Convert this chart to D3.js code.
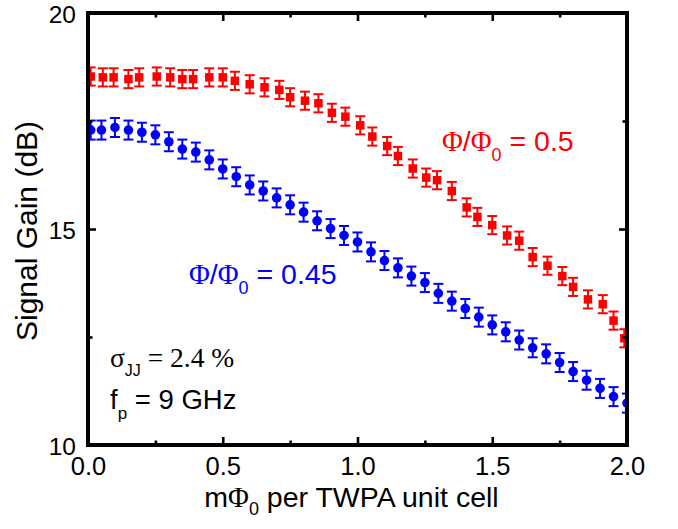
<!DOCTYPE html>
<html>
<head>
<meta charset="utf-8">
<script src="https://cdn.jsdelivr.net/npm/d3@7"></script>
<style>
  body { margin: 0; background: #fff; }
  svg { display: block; }
  text { font-family: "Liberation Sans", Arial, sans-serif; }
</style>
</head>
<body>
<svg id="chart" width="678" height="529"></svg>
<script>
// Phi/Phi0 = 0.5 (red squares)
const redX = [0.01, 0.055, 0.095, 0.15, 0.19, 0.255, 0.305, 0.35, 0.39, 0.45, 0.50, 0.545, 0.60, 0.655, 0.71,
  0.75, 0.805, 0.855, 0.905, 0.955, 1.01, 1.055, 1.11, 1.15, 1.205, 1.255, 1.295, 1.35, 1.405, 1.445,
  1.50, 1.555, 1.60, 1.65, 1.705, 1.76, 1.80, 1.855, 1.91, 1.95, 1.99];
const redY = [18.53, 18.51, 18.51, 18.47, 18.51, 18.53, 18.51, 18.47, 18.47, 18.51, 18.51, 18.43, 18.35, 18.28, 18.22,
  18.05, 17.97, 17.91, 17.69, 17.60, 17.40, 17.14, 16.92, 16.69, 16.40, 16.19, 16.13, 15.88, 15.50, 15.28,
  15.09, 14.85, 14.73, 14.35, 14.15, 13.91, 13.66, 13.37, 13.26, 12.88, 12.47];
const redErr = 0.21;

// Phi/Phi0 = 0.45 (blue circles)
const blueX = [0.01, 0.05, 0.10, 0.15, 0.20, 0.25, 0.30, 0.35, 0.40, 0.45, 0.50, 0.55, 0.60, 0.65, 0.70,
  0.75, 0.80, 0.85, 0.90, 0.95, 1.00, 1.05, 1.10, 1.15, 1.20, 1.25, 1.30, 1.35, 1.40, 1.45,
  1.50, 1.55, 1.60, 1.65, 1.70, 1.75, 1.80, 1.85, 1.90, 1.95, 2.00];
const blueY = [17.29, 17.29, 17.35, 17.29, 17.24, 17.18, 17.02, 16.85, 16.78, 16.60, 16.39, 16.21, 16.02, 15.88, 15.72,
  15.56, 15.39, 15.19, 15.01, 14.85, 14.70, 14.47, 14.27, 14.10, 13.91, 13.76, 13.51, 13.33, 13.16, 12.96,
  12.78, 12.62, 12.43, 12.25, 12.11, 11.91, 11.70, 11.50, 11.31, 11.12, 10.97];
const blueErr = 0.22;

const xMajor = [0, 0.5, 1.0, 1.5, 2.0];
const xMinor = [0.25, 0.75, 1.25, 1.75];
const yMajor = [10, 15, 20];
const yMinor = [12.5, 17.5];

const margin = { left: 88, right: 51, top: 13, bottom: 84 };
const W = 678, H = 529;

const svg = d3.select("#chart");
const x = d3.scaleLinear().domain([0, 2]).range([margin.left, W - margin.right]);
const y = d3.scaleLinear().domain([10, 20]).range([H - margin.bottom, margin.top]);

svg.append("defs").append("clipPath").attr("id", "plotClip")
  .append("rect")
  .attr("x", x(0)).attr("y", y(20))
  .attr("width", x(2) - x(0)).attr("height", y(10) - y(20));

const plot = svg.append("g").attr("clip-path", "url(#plotClip)");

function drawSeries(xs, ys, err, color, shape) {
  const pts = xs.map((d, i) => ({ x: d, y: ys[i] }));
  const g = plot.append("g").attr("stroke", color).attr("stroke-width", 2);
  const cap = 5;
  g.selectAll(".bar").data(pts).enter().append("line")
    .attr("x1", d => x(d.x)).attr("x2", d => x(d.x))
    .attr("y1", d => y(d.y - err)).attr("y2", d => y(d.y + err));
  g.selectAll(".capTop").data(pts).enter().append("line")
    .attr("x1", d => x(d.x) - cap).attr("x2", d => x(d.x) + cap)
    .attr("y1", d => y(d.y + err)).attr("y2", d => y(d.y + err));
  g.selectAll(".capBot").data(pts).enter().append("line")
    .attr("x1", d => x(d.x) - cap).attr("x2", d => x(d.x) + cap)
    .attr("y1", d => y(d.y - err)).attr("y2", d => y(d.y - err));

  const m = plot.append("g").attr("fill", color);
  if (shape === "square") {
    const s = 8.5;
    m.selectAll("rect").data(pts).enter().append("rect")
      .attr("x", d => x(d.x) - s / 2).attr("y", d => y(d.y) - s / 2)
      .attr("width", s).attr("height", s);
  } else {
    m.selectAll("circle").data(pts).enter().append("circle")
      .attr("cx", d => x(d.x)).attr("cy", d => y(d.y)).attr("r", 4.8);
  }
}

drawSeries(redX, redY, redErr, "#ff0000", "square");
drawSeries(blueX, blueY, blueErr, "#0000ff", "circle");

// axes: ticks point inward on all four sides
function styleAxis(g, fontSize) {
  g.select(".domain").remove();
  g.selectAll(".tick line").attr("stroke", "#000").attr("stroke-width", 2.6);
  g.selectAll(".tick text").attr("fill", "#000")
    .style("font-family", '"Liberation Sans", Arial, sans-serif')
    .style("font-size", fontSize + "px");
}

function addAxis(axisFn, scale, translate, values, size, format, padding, fontSize) {
  const g = svg.append("g").attr("transform", translate);
  const ax = axisFn(scale).tickValues(values).tickSize(size).tickFormat(format || "");
  if (padding) ax.tickPadding(padding);
  g.call(ax);
  styleAxis(g, fontSize || 25);
  return g;
}

const fmt = d3.format(".1f");
addAxis(d3.axisBottom, x, `translate(0,${y(10)})`, xMajor, -8, fmt, 12, 25.5);
addAxis(d3.axisBottom, x, `translate(0,${y(10)})`, xMinor, -4.5);
addAxis(d3.axisTop, x, `translate(0,${y(20)})`, xMajor, -8);
addAxis(d3.axisTop, x, `translate(0,${y(20)})`, xMinor, -4.5);
const yAx = addAxis(d3.axisLeft, y, `translate(${x(0)},0)`, yMajor, -8, d3.format("d"), 12, 24.5);
yAx.selectAll(".tick text").attr("dy", "0.37em");
addAxis(d3.axisLeft, y, `translate(${x(0)},0)`, yMinor, -4.5);
addAxis(d3.axisRight, y, `translate(${x(2)},0)`, yMajor, -8);
addAxis(d3.axisRight, y, `translate(${x(2)},0)`, yMinor, -4.5);

// frame
svg.append("rect")
  .attr("x", x(0)).attr("y", y(20))
  .attr("width", x(2) - x(0)).attr("height", y(10) - y(20))
  .attr("fill", "none").attr("stroke", "#000").attr("stroke-width", 4);

// axis titles
const serif = '"Liberation Serif", "Times New Roman", serif';
const sans = '"Liberation Sans", Arial, sans-serif';

const xt = svg.append("text")
  .attr("x", (x(0) + x(2)) / 2 - 6).attr("y", 507)
  .attr("text-anchor", "middle").attr("font-size", 28.5).attr("fill", "#000");
xt.append("tspan").text("m");
xt.append("tspan").style("font-family", serif).text("Φ");
xt.append("tspan").attr("font-size", 18).attr("dy", 8).text("0");
xt.append("tspan").attr("dy", -8).text(" per TWPA unit cell");

svg.append("text")
  .attr("transform", `translate(37,${(y(10) + y(20)) / 2 + 2}) rotate(-90)`)
  .attr("text-anchor", "middle").attr("font-size", 30).attr("fill", "#000")
  .text("Signal Gain (dB)");

// annotations
function phiLabel(px, py, value, color) {
  const t = svg.append("text").attr("x", px).attr("y", py)
    .attr("font-size", 28.5).attr("fill", color);
  t.append("tspan").style("font-family", serif).text("Φ");
  t.append("tspan").text("/");
  t.append("tspan").style("font-family", serif).text("Φ");
  t.append("tspan").attr("font-size", 18).attr("dy", 10).text("0");
  t.append("tspan").attr("dy", -10).text(" = " + value);
}
phiLabel(442, 151, "0.5", "#ff0000");
phiLabel(189, 284, "0.45", "#0000ff");

const sig = svg.append("text").attr("x", 110).attr("y", 367)
  .attr("font-size", 27.5).attr("fill", "#000");
sig.append("tspan").style("font-family", serif).text("σ");
sig.append("tspan").style("font-family", sans).attr("font-size", 16).attr("dy", 9).text("JJ");
sig.append("tspan").style("font-family", serif).attr("dy", -9).text(" = 2.4 %");

const fp = svg.append("text").attr("x", 110).attr("y", 409)
  .attr("font-size", 27.5).attr("fill", "#000");
fp.append("tspan").text("f");
fp.append("tspan").attr("font-size", 17).attr("dy", 10).text("p");
fp.append("tspan").attr("dy", -10).text(" = 9 GHz");
</script>
</body>
</html>
